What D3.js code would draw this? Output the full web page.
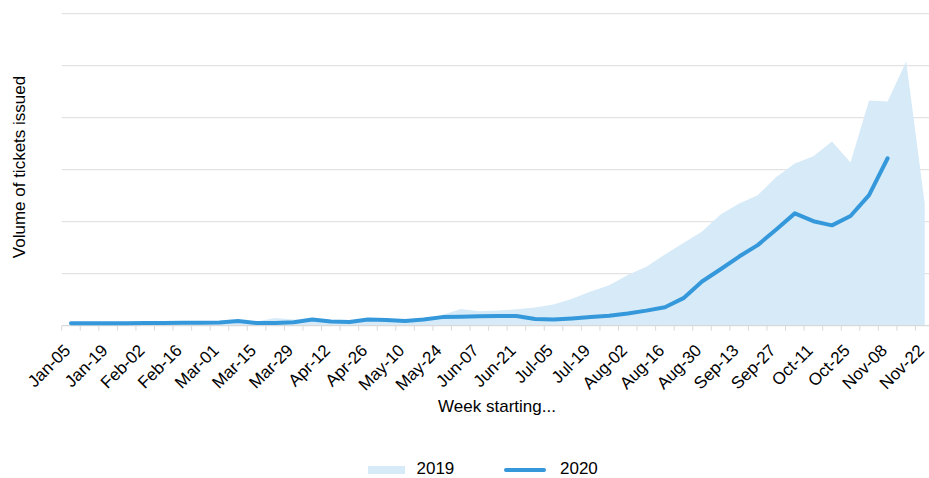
<!DOCTYPE html>
<html>
<head>
<meta charset="utf-8">
<script src="https://cdn.jsdelivr.net/npm/d3@7/dist/d3.min.js"></script>
<style>
  html, body { margin: 0; padding: 0; background: #fff; }
  svg { display: block; font-family: "Liberation Sans", Arial, sans-serif; }
</style>
</head>
<body>
<svg id="chart" width="929" height="478"></svg>
<script>
const weeks = ["Jan-05","Jan-12","Jan-19","Jan-26","Feb-02","Feb-09","Feb-16","Feb-23",
  "Mar-01","Mar-08","Mar-15","Mar-22","Mar-29","Apr-05","Apr-12","Apr-19","Apr-26",
  "May-03","May-10","May-17","May-24","May-31","Jun-07","Jun-14","Jun-21","Jun-28",
  "Jul-05","Jul-12","Jul-19","Jul-26","Aug-02","Aug-09","Aug-16","Aug-23","Aug-30",
  "Sep-06","Sep-13","Sep-20","Sep-27","Oct-04","Oct-11","Oct-18","Oct-25",
  "Nov-01","Nov-08","Nov-15","Nov-22"];

const tickLabels = ["Jan-05","Jan-19","Feb-02","Feb-16","Mar-01","Mar-15","Mar-29","Apr-12",
  "Apr-26","May-10","May-24","Jun-07","Jun-21","Jul-05","Jul-19","Aug-02","Aug-16",
  "Aug-30","Sep-13","Sep-27","Oct-11","Oct-25","Nov-08","Nov-22"];

const values2019 = [0.5,0.5,0.5,0.5,0.55,0.6,0.6,0.6,0.65,0.7,0.8,1.5,1.2,0.9,0.9,0.9,0.9,1.0,1.0,
  1.3,2.05,3.2,2.8,2.9,3.15,3.5,4.1,5.2,6.6,7.8,9.75,11.35,13.7,15.9,18.1,21.4,23.5,25.1,
  28.6,31.2,32.6,35.4,31.4,43.3,43.1,50.8,23.5];

const values2020 = [0.45,0.45,0.45,0.45,0.5,0.5,0.55,0.55,0.6,0.9,0.5,0.5,0.65,1.2,0.8,0.7,
  1.2,1.1,0.9,1.2,1.65,1.7,1.8,1.85,1.85,1.3,1.2,1.4,1.65,1.9,2.35,2.9,3.55,5.3,8.5,10.85,
  13.3,15.5,18.5,21.6,20.1,19.3,21.1,25.1,32.2,null,null];

const yTicks = [0,10,20,30,40,50,60];

const svg = d3.select("#chart");
const x0 = 61.7, step = 18.56;
const x = d3.scaleBand().domain(weeks).range([x0, x0 + step * weeks.length]).padding(0);
const y = d3.scaleLinear().domain([0, 60]).range([325.7, 13.7]);
const cx = d => x(d) + x.bandwidth() / 2;

// gridlines
svg.append("g").selectAll("line").data(yTicks.filter(t => t > 0)).join("line")
  .attr("x1", x0).attr("x2", 929)
  .attr("y1", d => y(d)).attr("y2", d => y(d))
  .attr("stroke", "#e3e3e3").attr("stroke-width", 1.3);

// 2019 area
const d2019 = weeks.map((w, i) => ({w, v: values2019[i]}));
svg.append("path").datum(d2019)
  .attr("fill", "#d6eaf8")
  .attr("d", d3.area().x(d => cx(d.w)).y0(y(0)).y1(d => y(d.v)));

// x axis baseline and ticks
const edges = d3.range(weeks.length + 1).map(i => x0 + i * step);
svg.append("line").attr("x1", x0).attr("x2", 929).attr("y1", y(0)).attr("y2", y(0))
  .attr("stroke", "#d9d9d9").attr("stroke-width", 1.3);
svg.append("g").selectAll("line").data(edges).join("line")
  .attr("x1", d => d).attr("x2", d => d).attr("y1", y(0)).attr("y2", y(0) + 5)
  .attr("stroke", "#d9d9d9").attr("stroke-width", 1);

// 2020 line
const d2020 = weeks.map((w, i) => ({w, v: values2020[i]}));
svg.append("path").datum(d2020)
  .attr("fill", "none").attr("stroke", "#3498db").attr("stroke-width", 4)
  .attr("stroke-linejoin", "round").attr("stroke-linecap", "round")
  .attr("d", d3.line().defined(d => d.v != null).x(d => cx(d.w)).y(d => y(d.v)));

// x tick labels
svg.append("g").selectAll("text").data(tickLabels).join("text")
  .attr("transform", d => `translate(${cx(d) - 0.5},350.5) rotate(-45)`)
  .attr("text-anchor", "end").attr("dy", "1.4")
  .attr("font-size", 17).attr("fill", "#000")
  .text(d => d);

// axis titles
svg.append("text").attr("x", 497).attr("y", 411.5).attr("text-anchor", "middle")
  .attr("font-size", 17).text("Week starting...");
svg.append("text").attr("transform", "translate(24.5,167) rotate(-90)")
  .attr("text-anchor", "middle").attr("font-size", 17).text("Volume of tickets issued");

// legend
svg.append("rect").attr("x", 368).attr("y", 466).attr("width", 37).attr("height", 8)
  .attr("fill", "#d6eaf8");
svg.append("text").attr("x", 416.5).attr("y", 474.3).attr("font-size", 17).text("2019");
svg.append("line").attr("x1", 506).attr("x2", 544).attr("y1", 470).attr("y2", 470)
  .attr("stroke", "#3498db").attr("stroke-width", 4).attr("stroke-linecap", "round");
svg.append("text").attr("x", 560).attr("y", 474.3).attr("font-size", 17).text("2020");
</script>
</body>
</html>
